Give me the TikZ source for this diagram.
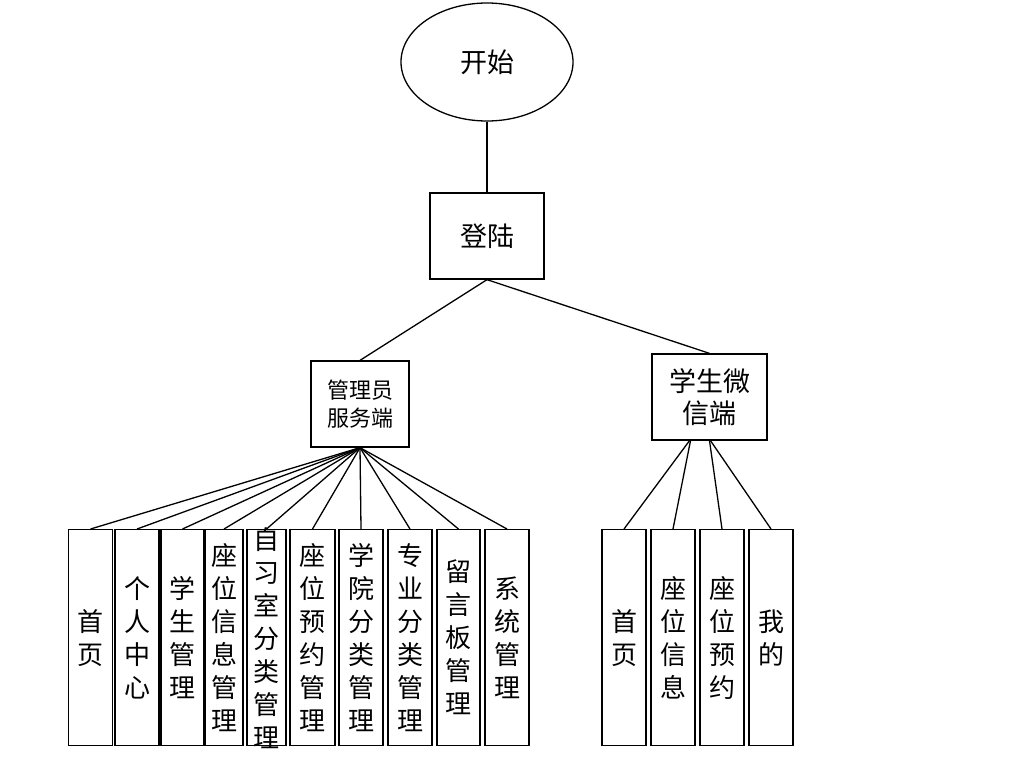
\documentclass[tikz,border=0pt]{standalone}
\usepackage{fontspec}
\setmainfont{Noto Sans CJK SC}
\usepackage{tikz}
\usetikzlibrary{shapes.geometric, positioning}

\begin{document}
\begin{tikzpicture}[
      x=1pt, y=-1pt,
      box/.style={draw=black, fill=white, line width=1.3pt, inner sep=0pt,
                  align=center},
      startnode/.style={ellipse, draw=black, line width=1.3pt, minimum width=172pt,
                  minimum height=118pt, inner sep=0pt, font=\fontsize{27}{32}\selectfont},
      leaf/.style={box, anchor=north, minimum width=44pt, minimum height=216pt},
      vtext/.style={align=center, inner sep=0pt, font=\fontsize{26}{33}\selectfont},
      link/.style={line width=1.3pt, black}
    ]
    \useasboundingbox (0,0) rectangle (1011,756);

    \node[startnode] (start) at (487,62) {开始};
    \node[box, minimum width=114pt, minimum height=86pt,
          font=\fontsize{27}{32}\selectfont] (login) at (487,236) {登陆};

    \node[box, minimum width=98pt, minimum height=86pt,
          font=\fontsize{22}{28}\selectfont] (admin) at (360,404)
      {管理员\\服务端};
    \node[box, minimum width=115pt, minimum height=86pt,
          font=\fontsize{27}{32}\selectfont] (stu) at (709.5,397)
      {学生微\\信端};

    % admin side
    \node[leaf, label={[vtext]center:{首\\页}}] (a1) at (90.5,529) {};
    \node[leaf, label={[vtext]center:{个\\人\\中\\心}}] (a2) at (137,529) {};
    \node[leaf, minimum width=43pt, label={[vtext]center:{学\\生\\管\\理}}] (a3) at (182.5,529) {};
    \node[leaf, minimum width=38pt, label={[vtext]center:{座\\位\\信\\息\\管\\理}}] (a4) at (224,529) {};
    \node[leaf, minimum width=39pt, label={[vtext]center:{自\\习\\室\\分\\类\\管\\理}}] (a5) at (266.5,529) {};
    \node[leaf, minimum width=45pt, label={[vtext]center:{座\\位\\预\\约\\管\\理}}] (a6) at (312.5,529) {};
    \node[leaf, label={[vtext]center:{学\\院\\分\\类\\管\\理}}] (a7) at (361,529) {};
    \node[leaf, label={[vtext]center:{专\\业\\分\\类\\管\\理}}] (a8) at (410,529) {};
    \node[leaf, minimum width=43pt, label={[vtext]center:{留\\言\\板\\管\\理}}] (a9) at (458.5,529) {};
    \node[leaf, label={[vtext]center:{系\\统\\管\\理}}] (a10) at (507,529) {};

    % student side
    \node[leaf, label={[vtext]center:{首\\页}}] (s1) at (624,529) {};
    \node[leaf, label={[vtext]center:{座\\位\\信\\息}}] (s2) at (673,529) {};
    \node[leaf, label={[vtext]center:{座\\位\\预\\约}}] (s3) at (722,529) {};
    \node[leaf, label={[vtext]center:{我\\的}}] (s4) at (771,529) {};

    \draw[link] (start) -- (login);
    \draw[link] (login.south) -- (admin.north);
    \draw[link] (login.south) -- (stu.north);

    \foreach \i in {1,...,10}
      \draw[link] (admin.south) -- (a\i.north);

    \draw[link] ([xshift=-20pt]stu.south) -- (s1.north);
    \draw[link] ([xshift=-19pt]stu.south) -- (s2.north);
    \draw[link] ([xshift=0pt]stu.south) -- (s3.north);
    \draw[link] ([xshift=1pt]stu.south) -- (s4.north);
  \end{tikzpicture}
\end{document}
